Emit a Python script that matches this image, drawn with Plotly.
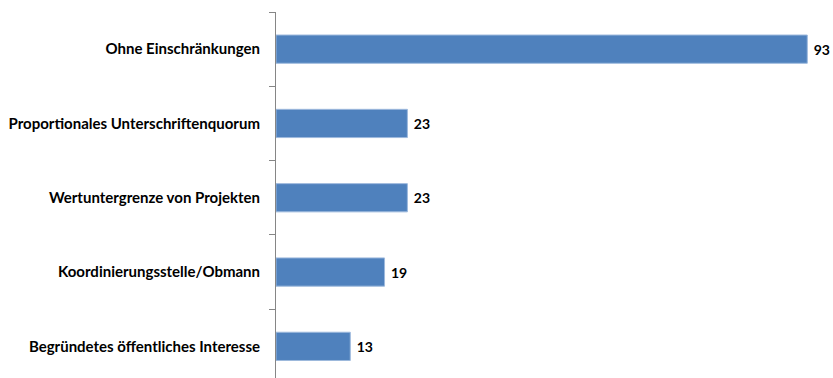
import plotly.graph_objects as go

categories = [
    "Ohne Einschränkungen",
    "Proportionales Unterschriftenquorum",
    "Wertuntergrenze von Projekten",
    "Koordinierungsstelle/Obmann",
    "Begründetes öffentliches Interesse",
]
values = [93, 23, 23, 19, 13]

fig = go.Figure(
    go.Bar(
        x=values,
        y=categories,
        orientation="h",
        marker=dict(color="#4F81BD", line=dict(color="#9DB9DD", width=1)),
        text=[f" {v}" for v in values],
        textposition="outside",
        textfont=dict(family="Lato", size=14, color="#000000", weight="bold"),
        cliponaxis=False,
        width=0.38,
    )
)

fig.update_layout(
    width=833,
    height=378,
    margin=dict(l=276, r=0, t=12, b=0),
    paper_bgcolor="white",
    plot_bgcolor="white",
    showlegend=False,
    font=dict(family="Lato", size=15, color="#000000"),
)

fig.update_xaxes(
    range=[0, 97.5],
    visible=False,
    showgrid=False,
    zeroline=False,
)

fig.update_yaxes(
    type="category",
    categoryorder="array",
    categoryarray=categories,
    range=[4.426, -0.5],
    showline=True,
    linecolor="#868686",
    linewidth=1,
    ticks="outside",
    tickson="boundaries",
    ticklen=6,
    tickcolor="#868686",
    ticklabelstandoff=12,
    tickfont=dict(family="Lato", size=15, color="#000000", weight="bold"),
    showgrid=False,
    zeroline=False,
)

fig.write_html("out.html")
